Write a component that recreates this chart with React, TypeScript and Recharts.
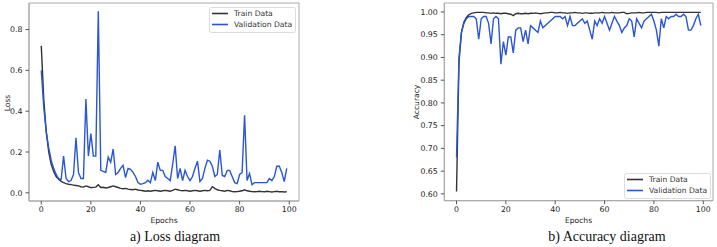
import React from "react";
import { LineChart, Line, XAxis, YAxis, ReferenceArea } from "recharts";

const epochs: number[] = Array.from({ length: 100 }, (_, i) => i);

const lossTrain: number[] = [
  0.72, 0.46, 0.3, 0.2, 0.14, 0.105, 0.08, 0.066, 0.056, 0.05,
  0.045, 0.042, 0.04, 0.038, 0.036, 0.034, 0.03, 0.028, 0.034, 0.03,
  0.025, 0.027, 0.028, 0.04, 0.026, 0.027, 0.024, 0.026, 0.03, 0.034,
  0.03, 0.026, 0.022, 0.02, 0.022, 0.018, 0.016, 0.015, 0.018, 0.014,
  0.012, 0.01, 0.008, 0.01, 0.008, 0.01, 0.012, 0.01, 0.008, 0.01,
  0.012, 0.01, 0.008, 0.012, 0.018, 0.015, 0.012, 0.01, 0.012, 0.01,
  0.008, 0.01, 0.012, 0.01, 0.008, 0.01, 0.012, 0.01, 0.012, 0.03,
  0.022, 0.015, 0.012, 0.01, 0.008, 0.012, 0.01, 0.006, 0.005, 0.006,
  0.008, 0.01, 0.015, 0.01, 0.008, 0.006, 0.005, 0.006, 0.008, 0.006,
  0.005, 0.008, 0.006, 0.004, 0.006, 0.008, 0.005, 0.006, 0.004, 0.005,
];

const lossVal: number[] = [
  0.6, 0.42, 0.3, 0.22, 0.16, 0.12, 0.09, 0.07, 0.065, 0.18,
  0.07, 0.055, 0.06, 0.09, 0.27, 0.1, 0.07, 0.07, 0.46, 0.18,
  0.29, 0.18, 0.18, 0.89, 0.11, 0.105, 0.1, 0.175, 0.15, 0.215,
  0.09, 0.1, 0.12, 0.135, 0.075, 0.12, 0.115, 0.1, 0.08, 0.05,
  0.042, 0.045, 0.05, 0.062, 0.05, 0.1, 0.06, 0.15, 0.11, 0.11,
  0.08, 0.07, 0.06, 0.14, 0.23, 0.07, 0.12, 0.06, 0.11, 0.08,
  0.06, 0.08, 0.12, 0.155, 0.055, 0.07, 0.12, 0.16, 0.155, 0.13,
  0.08, 0.09, 0.21, 0.085, 0.08, 0.11, 0.11, 0.08, 0.05, 0.045,
  0.09, 0.1, 0.38, 0.06, 0.095, 0.04, 0.05, 0.05, 0.05, 0.05,
  0.05, 0.05, 0.07, 0.06, 0.08, 0.13, 0.13, 0.1, 0.055, 0.12,
];

const accTrain: number[] = [
  0.605, 0.89, 0.955, 0.978, 0.988, 0.994, 0.997, 0.998, 0.999, 0.999,
  0.999, 0.999, 0.998, 0.998, 0.997, 0.998, 0.997, 0.997, 0.996, 0.997,
  0.997, 0.996, 0.995, 0.992, 0.996, 0.997, 0.996, 0.996, 0.997, 0.996,
  0.997, 0.997, 0.998, 0.997, 0.996, 0.997, 0.998, 0.998, 0.999, 0.999,
  0.998, 0.998, 0.999, 0.998, 0.998, 0.997, 0.998, 0.998, 0.999, 0.998,
  0.998, 0.997, 0.998, 0.998, 0.997, 0.997, 0.998, 0.998, 0.998, 0.999,
  0.998, 0.998, 0.998, 0.999, 0.998, 0.998, 0.998, 0.999, 0.999, 0.996,
  0.997, 0.998, 0.998, 0.998, 0.999, 0.998, 0.998, 0.999, 0.999, 0.999,
  0.999, 0.999, 0.998, 0.999, 0.999, 0.999, 0.999, 0.999, 0.999, 0.999,
  0.999, 0.999, 0.999, 0.999, 0.999, 0.999, 0.999, 0.999, 0.999, 0.999,
];

const accVal: number[] = [
  0.68, 0.9, 0.955, 0.975, 0.985, 0.99, 0.99, 0.99, 0.985, 0.94,
  0.985, 0.99, 0.99, 0.975, 0.93, 0.985, 0.99, 0.985, 0.885, 0.935,
  0.905, 0.945, 0.945, 0.91, 0.96, 0.965, 0.965, 0.935, 0.96, 0.93,
  0.97, 0.965, 0.96, 0.955, 0.98, 0.965, 0.97, 0.975, 0.98, 0.985,
  0.99, 0.99, 0.99, 0.985, 0.99, 0.97, 0.99, 0.97, 0.97, 0.975,
  0.98, 0.985, 0.975, 0.98, 0.96, 0.94, 0.98, 0.97, 0.985, 0.975,
  0.99, 0.975, 0.96, 0.975, 0.99, 0.98, 0.97, 0.955, 0.965, 0.97,
  0.985, 0.98, 0.945, 0.985, 0.975, 0.965, 0.98, 0.985, 0.99, 0.995,
  0.98, 0.96, 0.925, 0.985, 0.965, 0.99, 0.985, 0.99, 0.99, 0.995,
  0.99, 0.99, 0.995, 0.99, 0.96, 0.96, 0.97, 0.985, 0.995, 0.97,
];

const xTicks: number[] = [0, 20, 40, 60, 80, 100];
const lossTicks: number[] = [0, 0.2, 0.4, 0.6, 0.8];
const accTicks: number[] = [0.6, 0.65, 0.7, 0.75, 0.8, 0.85, 0.9, 0.95, 1.0];
const legendLabels: string[] = ["Train Data", "Validation Data"];

const X_DOMAIN: [number, number] = [-4.95, 103.95];
const LOSS_DOMAIN: [number, number] = [-0.04, 0.93];
const ACC_DOMAIN: [number, number] = [0.585, 1.0197];

const lossData = epochs.map((e, i) => ({ e, train: lossTrain[i], val: lossVal[i] }));
const accData = epochs.map((e, i) => ({ e, train: accTrain[i], val: accVal[i] }));

const FONT = "DejaVu Sans";
const FRAME = "#a8a8a8";
const TRAIN = "#333333";
const VAL = "#2856d4";
const tickStyle = { fontSize: 7.8, fill: "#222", fontFamily: FONT };

function LegendBox({ left, top }: { left: number; top: number }) {
  const colors = [TRAIN, VAL];
  return (
    <svg
      width={87}
      height={26}
      style={{ position: "absolute", left, top, overflow: "visible" }}
    >
      <rect x={0.5} y={0.5} width={86} height={25} rx={2} fill="#fff" fillOpacity={0.85} stroke="#dcdcdc" />
      {legendLabels.map((lab, i) => (
        <g key={lab}>
          <line x1={3} x2={19} y1={6.5 + i * 11} y2={6.5 + i * 11} stroke={colors[i]} strokeWidth={1.6} />
          <text x={25} y={9.3 + i * 11} fontFamily={FONT} fontSize={7.6} fill="#333">
            {lab}
          </text>
        </g>
      ))}
    </svg>
  );
}

const textAbs = (
  left: number,
  top: number,
  content: string,
  style: React.CSSProperties
) => (
  <div style={{ position: "absolute", left, top, whiteSpace: "nowrap", ...style }}>{content}</div>
);

export default function App() {
  return (
    <div style={{ position: "absolute", left: 0, top: 0, width: 717, height: 247, background: "#fff", overflow: "hidden" }}>
      {/* Loss chart */}
      <div style={{ position: "absolute", left: 0, top: 0 }}>
        <LineChart width={310} height={247} data={lossData} margin={{ top: 3, right: 11, bottom: 0, left: 0 }}>
          <XAxis
            dataKey="e"
            type="number"
            domain={X_DOMAIN}
            ticks={xTicks}
            allowDataOverflow
            height={46}
            tick={tickStyle}
            tickSize={3.5}
            tickMargin={2}
            stroke={FRAME}
            tickLine={{ stroke: "#555" }}
          />
          <YAxis
            type="number"
            domain={LOSS_DOMAIN}
            ticks={lossTicks}
            allowDataOverflow
            width={29}
            tick={tickStyle}
            tickSize={3.5}
            tickMargin={3}
            tickFormatter={(v: number) => v.toFixed(1)}
            stroke={FRAME}
            tickLine={{ stroke: "#555" }}
          />
          <ReferenceArea
            x1={X_DOMAIN[0]}
            x2={X_DOMAIN[1]}
            y1={LOSS_DOMAIN[0]}
            y2={LOSS_DOMAIN[1]}
            fill="none"
            stroke={FRAME}
            strokeWidth={1}
            ifOverflow="visible"
          />
          <Line dataKey="train" stroke={TRAIN} strokeWidth={1.4} dot={false} isAnimationActive={false} />
          <Line dataKey="val" stroke={VAL} strokeWidth={1.4} dot={false} isAnimationActive={false} />
        </LineChart>
      </div>
      <LegendBox left={209} top={7} />
      {textAbs(164, 220, "Epochs", { transform: "translate(-50%,-50%)", fontFamily: FONT, fontSize: 7.6, color: "#222" })}
      {textAbs(6.5, 103, "Loss", { transform: "translate(-50%,-50%) rotate(-90deg)", fontFamily: FONT, fontSize: 7.6, color: "#222" })}
      {textAbs(175, 237, "a) Loss diagram", { transform: "translate(-50%,-50%)", fontFamily: "Liberation Serif", fontSize: 14, color: "#111" })}

      {/* Accuracy chart */}
      <div style={{ position: "absolute", left: 400, top: 0 }}>
        <LineChart width={317} height={247} data={accData} margin={{ top: 3, right: 4, bottom: 0, left: 0 }}>
          <XAxis
            dataKey="e"
            type="number"
            domain={X_DOMAIN}
            ticks={xTicks}
            allowDataOverflow
            height={46.3}
            tick={tickStyle}
            tickSize={3.5}
            tickMargin={2}
            stroke={FRAME}
            tickLine={{ stroke: "#555" }}
          />
          <YAxis
            type="number"
            domain={ACC_DOMAIN}
            ticks={accTicks}
            allowDataOverflow
            width={44.3}
            tick={tickStyle}
            tickSize={3.5}
            tickMargin={3}
            tickFormatter={(v: number) => v.toFixed(2)}
            stroke={FRAME}
            tickLine={{ stroke: "#555" }}
          />
          <ReferenceArea
            x1={X_DOMAIN[0]}
            x2={X_DOMAIN[1]}
            y1={ACC_DOMAIN[0]}
            y2={ACC_DOMAIN[1]}
            fill="none"
            stroke={FRAME}
            strokeWidth={1}
            ifOverflow="visible"
          />
          <Line dataKey="train" stroke={TRAIN} strokeWidth={1.4} dot={false} isAnimationActive={false} />
          <Line dataKey="val" stroke={VAL} strokeWidth={1.4} dot={false} isAnimationActive={false} />
        </LineChart>
      </div>
      <LegendBox left={624} top={173} />
      {textAbs(578.5, 220, "Epochs", { transform: "translate(-50%,-50%)", fontFamily: FONT, fontSize: 7.6, color: "#222" })}
      {textAbs(416, 102, "Accuracy", { transform: "translate(-50%,-50%) rotate(-90deg)", fontFamily: FONT, fontSize: 7.6, color: "#222" })}
      {textAbs(607, 237, "b) Accuracy diagram", { transform: "translate(-50%,-50%)", fontFamily: "Liberation Serif", fontSize: 14, color: "#111" })}
    </div>
  );
}
